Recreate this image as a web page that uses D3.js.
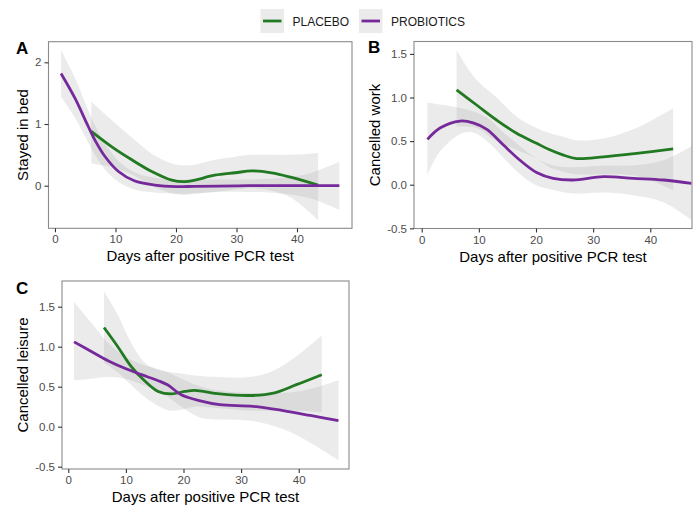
<!DOCTYPE html>
<html>
<head>
<meta charset="utf-8">
<script src="https://cdn.jsdelivr.net/npm/d3@7"></script>
<style>
  html, body { margin: 0; padding: 0; background: #fff; }
  svg { display: block; font-family: "Liberation Sans", Arial, sans-serif; }
</style>
</head>
<body>
<svg id="chart" width="693" height="505"></svg>
<script>
// ---------------- DATA ----------------
const seriesNames = ["PLACEBO", "PROBIOTICS"];
const xTicks = [0, 10, 20, 30, 40];
const yTicksA = [0, 1, 2];
const yTicksBC = [-0.5, 0.0, 0.5, 1.0, 1.5];
const xTitle = "Days after positive PCR test";

// Panel A – Stayed in bed
const aPlaceboDays  = [6, 9.4, 12.7, 16, 19.3, 21.5, 23.1, 26.4, 29.8, 32.5, 35.8, 39.1, 43.5];
const aPlaceboFit   = [0.88, 0.63, 0.42, 0.23, 0.09, 0.065, 0.09, 0.17, 0.21, 0.24, 0.21, 0.135, 0.01];
const aPlaceboUpper = [1.36, 1.06, 0.78, 0.52, 0.36, 0.33, 0.34, 0.42, 0.47, 0.5, 0.5, 0.5, 0.53];
const aPlaceboLower = [0.36, 0.3, 0.18, 0.0, -0.12, -0.15, -0.13, -0.1, -0.06, -0.04, -0.08, -0.2, -0.56];

const aProbioDays  = [1, 3.3, 5.5, 6.6, 8.3, 10.5, 13.1, 16.5, 20, 23, 27, 32, 37, 42, 47];
const aProbioFit   = [1.82, 1.42, 0.96, 0.74, 0.47, 0.23, 0.08, 0.01, -0.015, -0.01, -0.005, 0, 0, 0, 0];
const aProbioUpper = [2.2, 1.75, 1.22, 0.98, 0.68, 0.4, 0.22, 0.13, 0.1, 0.1, 0.1, 0.1, 0.12, 0.2, 0.39];
const aProbioLower = [1.44, 1.1, 0.7, 0.5, 0.26, 0.06, -0.06, -0.11, -0.13, -0.12, -0.1, -0.1, -0.12, -0.2, -0.39];

// Panel B – Cancelled work
const bPlaceboDays  = [6.1, 9.6, 13.1, 16.6, 20.1, 22.4, 24.8, 27.1, 31.8, 37.6, 44];
const bPlaceboFit   = [1.086, 0.914, 0.742, 0.59, 0.475, 0.40, 0.34, 0.30, 0.32, 0.36, 0.41];
const bPlaceboUpper = [1.545, 1.2, 1.0, 0.78, 0.65, 0.59, 0.55, 0.51, 0.53, 0.65, 0.876];
const bPlaceboLower = [0.665, 0.65, 0.5, 0.4, 0.3, 0.2, 0.15, 0.12, 0.12, 0.1, -0.06];

const bProbioDays  = [1, 3.2, 6.7, 9, 11.4, 14.3, 17.2, 20.1, 23, 26.5, 31.8, 37, 42.3, 47.2];
const bProbioFit   = [0.52, 0.65, 0.73, 0.71, 0.635, 0.455, 0.28, 0.14, 0.073, 0.054, 0.092, 0.073, 0.054, 0.016];
const bProbioUpper = [0.94, 0.92, 0.88, 0.84, 0.77, 0.6, 0.44, 0.3, 0.22, 0.2, 0.22, 0.22, 0.28, 0.44];
const bProbioLower = [0.11, 0.38, 0.58, 0.6, 0.5, 0.31, 0.12, -0.01, -0.06, -0.1, -0.09, -0.12, -0.2, -0.405];

// Panel C – Cancelled leisure
const cPlaceboDays  = [6.2, 8.6, 10.9, 13.3, 15.6, 17.9, 20.2, 21.9, 26.3, 31.5, 35.6, 39.6, 44];
const cPlaceboFit   = [1.24, 1.0, 0.755, 0.57, 0.44, 0.41, 0.44, 0.455, 0.41, 0.39, 0.42, 0.525, 0.65];
const cPlaceboUpper = [1.69, 1.4, 1.05, 0.8, 0.71, 0.68, 0.66, 0.64, 0.62, 0.62, 0.7, 0.88, 1.14];
const cPlaceboLower = [0.8, 0.68, 0.52, 0.37, 0.26, 0.2, 0.22, 0.25, 0.23, 0.2, 0.2, 0.2, 0.18];

const cProbioDays  = [1, 4, 6.9, 9.8, 12.7, 15.6, 17.3, 19.6, 23.1, 26.3, 32.1, 37.3, 42, 46.9];
const cProbioFit   = [1.06, 0.94, 0.825, 0.73, 0.65, 0.575, 0.52, 0.40, 0.32, 0.275, 0.255, 0.2, 0.14, 0.075];
const cProbioUpper = [1.56, 1.3, 1.05, 0.88, 0.78, 0.72, 0.68, 0.6, 0.5, 0.45, 0.42, 0.42, 0.47, 0.58];
const cProbioLower = [0.58, 0.6, 0.62, 0.6, 0.53, 0.44, 0.37, 0.25, 0.11, 0.09, 0.07, -0.03, -0.2, -0.42];

// ---------------- STYLE / LAYOUT ----------------
const colors = { PLACEBO: "#217a21", PROBIOTICS: "#76299b" };

function zip(days, fit, lo, hi) {
  return days.map((d, i) => ({ d, y: fit[i], lo: lo[i], hi: hi[i] }));
}
const fmtInt = d3.format("d");
const fmt1 = v => d3.format(".1f")(v).replace("\u2212", "-");

const panels = [
  { letter: "A", ytitle: "Stayed in bed",
    box: { x0: 48.5, x1: 352, y0: 41.7, y1: 228.3 },
    xdom: [-1.07, 49.09], ydom: [-0.69, 2.334], yticks: yTicksA, yfmt: fmtInt,
    letterPos: [16, 54], ytitleX: 28,
    series: [
      { name: "PLACEBO", data: zip(aPlaceboDays, aPlaceboFit, aPlaceboLower, aPlaceboUpper) },
      { name: "PROBIOTICS", data: zip(aProbioDays, aProbioFit, aProbioLower, aProbioUpper) }
    ] },
  { letter: "B", ytitle: "Cancelled work",
    box: { x0: 414, x1: 692, y0: 41.5, y1: 228.5 },
    xdom: [-1.35, 47.3], ydom: [-0.502, 1.642], yticks: yTicksBC, yfmt: fmt1,
    letterPos: [368, 53], ytitleX: 380,
    series: [
      { name: "PLACEBO", data: zip(bPlaceboDays, bPlaceboFit, bPlaceboLower, bPlaceboUpper) },
      { name: "PROBIOTICS", data: zip(bProbioDays, bProbioFit, bProbioLower, bProbioUpper) }
    ] },
  { letter: "C", ytitle: "Cancelled leisure",
    box: { x0: 62, x1: 349, y0: 281, y1: 469 },
    xdom: [-1.09, 48.73], ydom: [-0.529, 1.821], yticks: yTicksBC, yfmt: fmt1,
    letterPos: [16, 294], ytitleX: 28,
    series: [
      { name: "PLACEBO", data: zip(cPlaceboDays, cPlaceboFit, cPlaceboLower, cPlaceboUpper) },
      { name: "PROBIOTICS", data: zip(cProbioDays, cProbioFit, cProbioLower, cProbioUpper) }
    ] }
];

const svg = d3.select("#chart");

panels.forEach(p => {
  const b = p.box;
  const x = d3.scaleLinear().domain(p.xdom).range([b.x0, b.x1]);
  const y = d3.scaleLinear().domain(p.ydom).range([b.y1, b.y0]);
  const g = svg.append("g");

  const clipId = "clip" + p.letter;
  g.append("clipPath").attr("id", clipId)
    .append("rect").attr("x", b.x0).attr("y", b.y0)
    .attr("width", b.x1 - b.x0).attr("height", b.y1 - b.y0);

  const plot = g.append("g").attr("clip-path", `url(#${clipId})`);

  const area = d3.area().curve(d3.curveCatmullRom.alpha(0.5))
    .x(d => x(d.d)).y0(d => y(d.lo)).y1(d => y(d.hi));
  const line = d3.line().curve(d3.curveCatmullRom.alpha(0.5))
    .x(d => x(d.d)).y(d => y(d.y));

  p.series.forEach(s => {
    plot.append("path").datum(s.data).attr("d", area)
      .attr("fill", "#999999").attr("fill-opacity", 0.2).attr("stroke", "none");
  });
  p.series.forEach(s => {
    plot.append("path").datum(s.data).attr("d", line)
      .attr("fill", "none").attr("stroke", colors[s.name])
      .attr("stroke-width", 2.8).attr("stroke-linecap", "butt");
  });

  // panel border
  g.append("rect").attr("x", b.x0).attr("y", b.y0)
    .attr("width", b.x1 - b.x0).attr("height", b.y1 - b.y0)
    .attr("fill", "none").attr("stroke", "#8a8a8a").attr("stroke-width", 1.1);

  // axes
  const xAxis = g.append("g").attr("transform", `translate(0,${b.y1})`)
    .call(d3.axisBottom(x).tickValues(xTicks).tickSize(4).tickPadding(3).tickFormat(fmtInt));
  const yAxis = g.append("g").attr("transform", `translate(${b.x0},0)`)
    .call(d3.axisLeft(y).tickValues(p.yticks).tickSize(4).tickPadding(3).tickFormat(p.yfmt));
  [xAxis, yAxis].forEach(ax => {
    ax.select(".domain").remove();
    ax.selectAll(".tick line").attr("stroke", "#333").attr("stroke-width", 1.1);
    ax.selectAll(".tick text").attr("fill", "#4d4d4d")
      .style("font-size", "11.5px").style("font-family", "'Liberation Sans', Arial, sans-serif");
  });

  // axis titles
  g.append("text").attr("x", (b.x0 + b.x1) / 2).attr("y", b.y1 + 33)
    .attr("text-anchor", "middle").attr("fill", "#000")
    .style("font-size", "15px").text(xTitle);
  g.append("text")
    .attr("transform", `translate(${p.ytitleX},${(b.y0 + b.y1) / 2}) rotate(-90)`)
    .attr("text-anchor", "middle").attr("fill", "#000")
    .style("font-size", "15px").text(p.ytitle);

  // panel letter
  g.append("text").attr("x", p.letterPos[0]).attr("y", p.letterPos[1])
    .attr("fill", "#000").style("font-size", "17px").style("font-weight", "bold")
    .text(p.letter);
});

// ---------------- LEGEND ----------------
const legend = svg.append("g");
const legendItems = [
  { name: seriesNames[0], keyX: 260.5, textX: 292.5 },
  { name: seriesNames[1], keyX: 359, textX: 391 }
];
legendItems.forEach(it => {
  legend.append("rect").attr("x", it.keyX).attr("y", 9).attr("width", 23.5).attr("height", 24)
    .attr("fill", "#ebebeb");
  legend.append("line").attr("x1", it.keyX + 2.5).attr("x2", it.keyX + 21)
    .attr("y1", 21).attr("y2", 21)
    .attr("stroke", colors[it.name]).attr("stroke-width", 2.8);
  legend.append("text").attr("x", it.textX).attr("y", 25.8)
    .attr("fill", "#1a1a1a").style("font-size", "12px").text(it.name);
});
</script>
</body>
</html>
